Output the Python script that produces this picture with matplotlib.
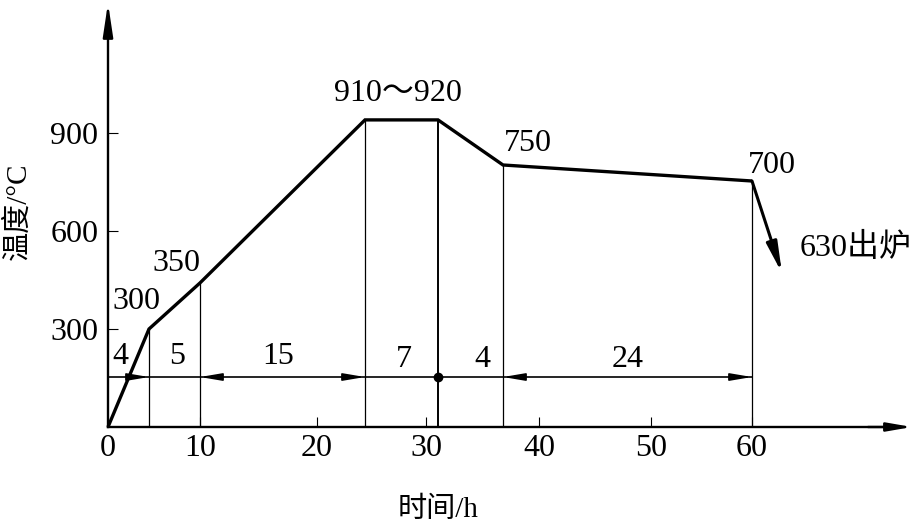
import matplotlib
matplotlib.use("Agg")
import matplotlib.pyplot as plt

# ---- data (schematic chart: positions as drawn) ----
x_tick_pos = [0, 9.2, 20.9, 31.8, 43.1, 54.3, 64.4]
x_tick_labels = ['0', '10', '20', '30', '40', '50', '60']
y_ticks = [300, 600, 900]
y_tick_labels = ['300', '600', '900']

curve_x = [0, 4.1, 9.2, 25.7, 33.0, 39.5, 64.4]
curve_T = [0, 300, 441, 940, 940, 802, 753]
exit_end = (67.4, 471)

dim_level = 153
seg_labels = ['4', '5', '15', '7', '4', '24']
seg_label_x = [1.25, 6.95, 17.0, 29.6, 37.45, 51.95]
seg_label_T = [217, 217, 217, 208, 208, 208]
arrow_tips = [4.1, 9.2, 25.7, 39.5, 64.4]
arrow_dirs = [1, -1, 1, -1, 1]
dot_x = 33.0

pt_labels = ['300', '350', '910～920', '750', '700', '630出炉']
pt_label_x = [2.85, 6.85, 28.95, 42.0, 66.35, 74.8]
pt_label_T = [384, 500, 1021, 868, 799, 549]

xlabel = '时间/h'
ylabel = '温度/°C'

FAM = ['Liberation Serif', 'Noto Sans CJK SC']
plt.rcParams['font.family'] = FAM

fig = plt.figure(figsize=(9.17, 5.25), dpi=100)
ax = fig.add_axes([0, 0, 1, 1])
ax.set_xlim(-10.8, 80.9)
ax.set_ylim((427 - 525) / 0.3267, 427 / 0.3267)

# axes
for s in ['top', 'right']:
    ax.spines[s].set_visible(False)
ax.spines['left'].set_position(('data', 0))
ax.spines['bottom'].set_position(('data', 0))
ax.spines['left'].set_bounds(0, 1250)
ax.spines['bottom'].set_bounds(0, 78)
ax.spines['left'].set_linewidth(1.7)
ax.spines['bottom'].set_linewidth(1.7)
ax.annotate('', xy=(0, 1298), xytext=(0, 1200),
            arrowprops=dict(arrowstyle='-|>,head_length=2.0,head_width=0.3',
                            mutation_scale=10, lw=1.7, color='black',
                            shrinkA=0, shrinkB=0))
ax.annotate('', xy=(80.4, 0), xytext=(76, 0),
            arrowprops=dict(arrowstyle='-|>,head_length=1.5,head_width=0.26',
                            mutation_scale=10, lw=1.7, color='black',
                            shrinkA=0, shrinkB=0))

ax.set_xticks(x_tick_pos, x_tick_labels)
ax.set_yticks(y_ticks, y_tick_labels)
ax.tick_params(axis='both', direction='in', length=7, width=0.8,
               labelsize=23, colors='black')
ax.tick_params(axis='x', pad=5)
ax.tick_params(axis='y', pad=7)

# curve
ax.plot(curve_x, curve_T, color='black', lw=2.4, solid_joinstyle='miter',
        solid_capstyle='butt')
ax.annotate('', xy=exit_end, xytext=(curve_x[-1], curve_T[-1]),
            arrowprops=dict(arrowstyle='-|>,head_length=1.8,head_width=0.32',
                            mutation_scale=10, lw=2.2, color='black',
                            shrinkA=0, shrinkB=0))

# vertical lines
lws = [0.9, 0.9, 0.9, 1.4, 0.9, 0.9]
ax.vlines(curve_x[1:], 0, curve_T[1:], colors='black', linewidths=lws)

# dimension line
ax.hlines(dim_level, 0, curve_x[-1], colors='black', linewidth=1.2)
for tx, d in zip(arrow_tips, arrow_dirs):
    ax.annotate('', xy=(tx, dim_level), xytext=(tx - d * 1.9, dim_level),
                arrowprops=dict(arrowstyle='-|>,head_length=1.3,head_width=0.22',
                                mutation_scale=10, lw=1.2, color='black',
                                shrinkA=0, shrinkB=0))
ax.plot([dot_x], [dim_level], 'o', color='black', markersize=6)

for t, x, y in zip(seg_labels, seg_label_x, seg_label_T):
    ax.text(x, y, t, ha='center', va='center', fontsize=23)
for t, x, y in zip(pt_labels, pt_label_x, pt_label_T):
    ax.text(x, y, t, ha='center', va='center', fontsize=23, family=FAM)

ax.text(33.05, -254, xlabel, ha='center', va='center', fontsize=21, family=FAM)
ax.text(-9.05, 661, ylabel, ha='center', va='center', fontsize=21,
        rotation=90, family=FAM)

fig.savefig('out.png', dpi=100)
